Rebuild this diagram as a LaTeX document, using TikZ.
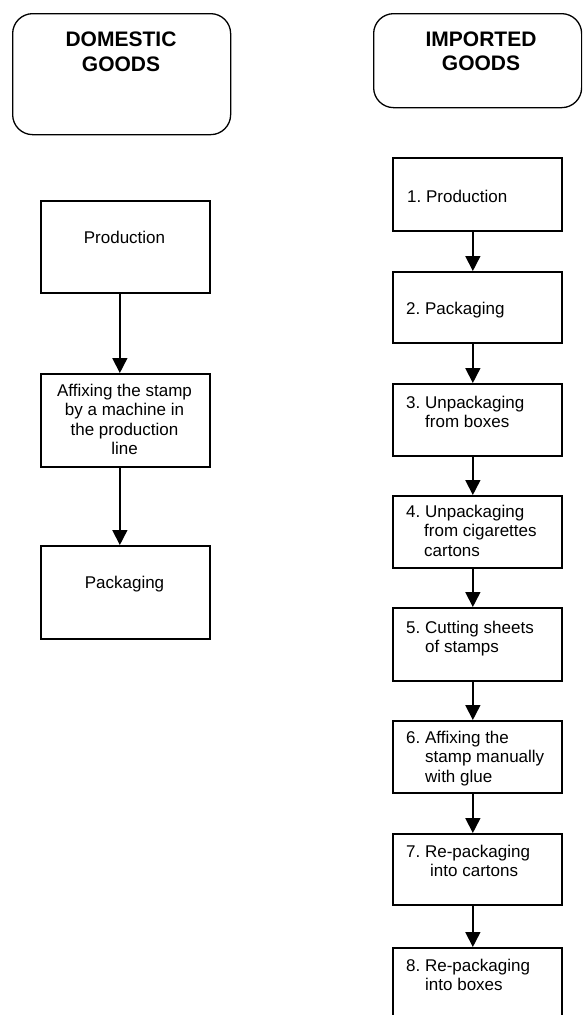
\documentclass[tikz,border=0pt]{standalone}
\usepackage{fontspec}
\setmainfont{Liberation Sans}
\usetikzlibrary{arrows.meta}
\frenchspacing
\newcommand{\lefttab}[1]{\begin{tabular}[t]{@{}l@{}}#1\end{tabular}}
\newcommand{\centtab}[1]{\begin{tabular}[t]{@{}c@{}}#1\end{tabular}}
\begin{document}
\begin{tikzpicture}[x=1pt,y=-1pt,
  rbox/.style={draw, line width=1.3pt, rounded corners=20pt, anchor=north west, inner sep=0pt},
  stepbox/.style={draw, line width=1.7pt, anchor=north west, inner sep=0pt, minimum width=169pt},
  txt/.style={inner sep=0pt, font=\fontsize{17}{19.5}\selectfont\frenchspacing},
  ttl/.style={inner sep=0pt, font=\fontsize{21}{24.5}\selectfont\bfseries},
  arr/.style={line width=1.6pt, -{Triangle[length=15pt,width=15pt]}}]
\clip (0,0) rectangle (582,1015);
\fill[white] (0,0) rectangle (582,1015);

% titles
\node[rbox, minimum width=218pt, minimum height=121pt] (dom) at (12,13) {};
\node[ttl, anchor=base] (domt) at (121,46.5) {\centtab{DOMESTIC\\GOODS}};
\node[rbox, minimum width=208pt, minimum height=94pt] (imp) at (373,13) {};
\node[ttl, anchor=base] (impt) at (481,46) {\centtab{IMPORTED\\GOODS}};

% domestic column
\node[stepbox, minimum height=92pt] (d1) at (40,200) {};
\node[txt, anchor=base] (d1t) at (124.5,243) {Production};
\node[stepbox, minimum height=93pt] (d2) at (40,373) {};
\node[txt, anchor=base] (d2t) at (124.5,396) {\centtab{Affixing the stamp\\by a machine in\\the production\\line}};
\node[stepbox, minimum height=93pt] (d3) at (40,545) {};
\node[txt, anchor=base] (d3t) at (124.5,588) {Packaging};

\draw[arr] ([xshift=-5.5pt]d1.south) -- ([xshift=-5.5pt]d2.north);
\draw[arr] ([xshift=-5.5pt]d2.south) -- ([xshift=-5.5pt]d3.north);

% imported column
\node[stepbox, minimum height=73pt] (r1) at (392,157) {};
\node[txt, anchor=base west] (r1t) at (407,202) {1. Production};
\node[stepbox, minimum height=71pt] (r2) at (392,271) {};
\node[txt, anchor=base west] (r2t) at (406,314) {2. Packaging};
\node[stepbox, minimum height=72pt] (r3) at (392,383) {};
\node[txt, anchor=base west] (r3t) at (406,408) {\lefttab{3. Unpackaging\\\hspace*{19pt}from boxes}};
\node[stepbox, minimum height=72pt] (r4) at (392,495) {};
\node[txt, anchor=base west] (r4t) at (406,517) {\lefttab{4. Unpackaging\\\hspace*{18pt}from cigarettes\\\hspace*{18pt}cartons}};
\node[stepbox, minimum height=73pt] (r5) at (392,607) {};
\node[txt, anchor=base west] (r5t) at (406,633) {\lefttab{5. Cutting sheets\\\hspace*{19pt}of stamps}};
\node[stepbox, minimum height=72pt] (r6) at (392,720) {};
\node[txt, anchor=base west] (r6t) at (406,743) {\lefttab{6. Affixing the\\\hspace*{19pt}stamp manually\\\hspace*{19pt}with glue}};
\node[stepbox, minimum height=71pt] (r7) at (392,833) {};
\node[txt, anchor=base west] (r7t) at (406,857) {\lefttab{7. Re-packaging\\\hspace*{24pt}into cartons}};
\node[stepbox, minimum height=90pt] (r8) at (392,947) {};
\node[txt, anchor=base west] (r8t) at (406,971) {\lefttab{8. Re-packaging\\\hspace*{19pt}into boxes}};

\foreach \a/\b in {r1/r2,r2/r3,r3/r4,r4/r5,r5/r6,r6/r7,r7/r8}
  \draw[arr] ([xshift=-4.5pt]\a.south) -- ([xshift=-4.5pt]\b.north);
\end{tikzpicture}
\end{document}
